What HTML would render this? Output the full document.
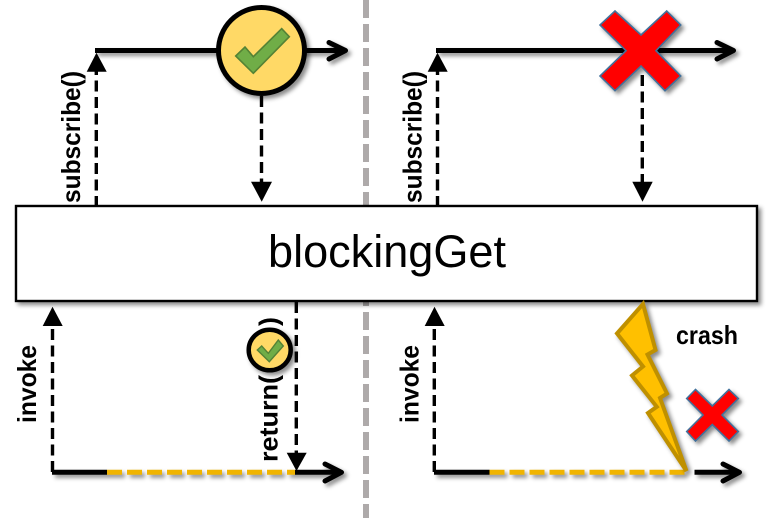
<!DOCTYPE html>
<html><head><meta charset="utf-8"><style>
html,body{margin:0;padding:0;background:#fff;width:778px;height:521px;overflow:hidden}
svg{display:block}
.s{filter:drop-shadow(3px 3px 2px rgba(0,0,0,.45))}
.t{font-family:"Liberation Sans",sans-serif;font-weight:bold;font-size:26px;fill:#000}
.d{stroke:#000;stroke-width:3.4;stroke-dasharray:11 5.5;fill:none}
.l{stroke:#000;stroke-width:5;fill:none}
.a{stroke:#000;stroke-width:5;fill:none;stroke-linecap:round;stroke-linejoin:round}
.y{stroke:#f0b400;stroke-width:5;stroke-dasharray:15 5;fill:none}
.x{fill:#f00;stroke:#41719c;stroke-width:1.6}
</style></head><body>
<svg width="778" height="521" viewBox="0 0 778 521" xmlns="http://www.w3.org/2000/svg">
<line x1="366" y1="0" x2="366" y2="518" stroke="#aeaaaa" stroke-width="6" stroke-dasharray="18 6"/>

<g class="s"><line class="l" x1="95" y1="50.5" x2="344" y2="50.5"/><polyline class="a" points="329,42.5 345.5,50.5 329,59"/></g>
<g class="s"><circle cx="261.5" cy="50.5" r="43" fill="#ffd966" stroke="#000" stroke-width="5"/></g>
<polygon points="235.7,56 245,47 253.3,56.7 281.7,28.7 289.3,36.7 253.3,73.3" fill="#70ad47" stroke="#548235" stroke-width="1.6"/>

<line class="d" x1="96.3" y1="207" x2="96.3" y2="70"/>
<polygon points="86.7,71.7 106.7,71.7 96.5,52.7" fill="#000"/>
<line class="d" x1="261.5" y1="96" x2="261.5" y2="183"/>
<polygon points="251,181.7 272,181.7 261.7,201.7" fill="#000"/>

<g class="s"><line class="l" x1="436" y1="50.5" x2="732" y2="50.5"/><polyline class="a" points="717,42.5 733.5,50.5 717,59"/></g>
<line class="d" x1="437.5" y1="207" x2="437.5" y2="70"/>
<polygon points="427.7,71.7 447.7,71.7 437.5,52.7" fill="#000"/>
<line class="d" x1="642.3" y1="75" x2="642.3" y2="183"/>
<polygon points="632.3,181.7 652.7,181.7 642.5,201.7" fill="#000"/>
<g class="s"><polygon class="x" points="615,11 641,35 666.7,11 680.7,25 656,50.7 680.7,76 665,90.7 641,66 615,90.7 600,76 626,50.7 600,25"/></g>

<text class="t" transform="translate(80,203) rotate(-90)" textLength="132" lengthAdjust="spacingAndGlyphs">subscribe()</text>
<text class="t" transform="translate(421.5,203) rotate(-90)" textLength="132" lengthAdjust="spacingAndGlyphs">subscribe()</text>

<g class="s"><rect x="16" y="206" width="741" height="95" fill="#fff" stroke="#000" stroke-width="2.4"/></g>
<text x="268" y="267" font-family="'Liberation Sans',sans-serif" font-size="45" fill="#000" textLength="238" lengthAdjust="spacingAndGlyphs">blockingGet</text>

<line class="d" x1="52.5" y1="472" x2="52.5" y2="325"/>
<polygon points="42.7,326 62.7,326 52.5,306.7" fill="#000"/>
<line class="d" x1="434.3" y1="472" x2="434.3" y2="325"/>
<polygon points="424.7,326 444.7,326 434.5,306.7" fill="#000"/>
<text class="t" transform="translate(36,423) rotate(-90)" textLength="78" lengthAdjust="spacingAndGlyphs">invoke</text>
<text class="t" transform="translate(418.5,423) rotate(-90)" textLength="78" lengthAdjust="spacingAndGlyphs">invoke</text>

<g class="s">
<line class="l" x1="52" y1="472.3" x2="107" y2="472.3"/>
<line class="y" x1="107" y1="472.3" x2="295" y2="472.3"/>
<line class="l" x1="295" y1="472.3" x2="340" y2="472.3"/>
<polyline class="a" points="325,464 341.5,472.3 325,481"/>
</g>
<g class="s">
<line class="l" x1="434" y1="472.3" x2="489.5" y2="472.3"/>
<line class="y" x1="489.5" y1="472.3" x2="686" y2="472.3"/>
<line class="l" x1="694.5" y1="472.3" x2="738" y2="472.3"/>
<polyline class="a" points="723,464 739.5,472.3 723,481"/>
</g>

<text class="t" transform="translate(277.5,462) rotate(-90)" textLength="87" lengthAdjust="spacingAndGlyphs">return(</text>
<text class="t" transform="translate(277.5,326) rotate(-90)" textLength="9" lengthAdjust="spacingAndGlyphs">)</text>
<line class="d" x1="296.3" y1="302" x2="296.3" y2="455"/>
<polygon points="286.7,452.7 306.7,452.7 296.5,471" fill="#000"/>
<g class="s"><ellipse cx="269.7" cy="350" rx="21" ry="20.3" fill="#ffd966" stroke="#000" stroke-width="4.5"/></g>
<polygon points="257.3,350 261.7,346 268.3,353.3 278.3,340 283.3,346 269.3,361.7" fill="#70ad47" stroke="#548235" stroke-width="1.4"/>

<g class="s"><polygon points="643,304 655.5,350 647.5,354.5 667,393.5 660,398 686.5,471 648,413 656.8,406.8 632,375.5 643,366.5 617,333.5" fill="#ffc000" stroke="#bf9000" stroke-width="4"/></g>
<g class="s"><polygon class="x" points="695.5,389.5 712.3,406 729,389.5 738.3,398.5 722,415 738.3,431.5 729,441 712.3,424.5 695.5,441 686.7,431.5 703,415 686.7,398.5"/></g>
<text class="t" x="676" y="344" textLength="62" lengthAdjust="spacingAndGlyphs">crash</text>
</svg>
</body></html>
